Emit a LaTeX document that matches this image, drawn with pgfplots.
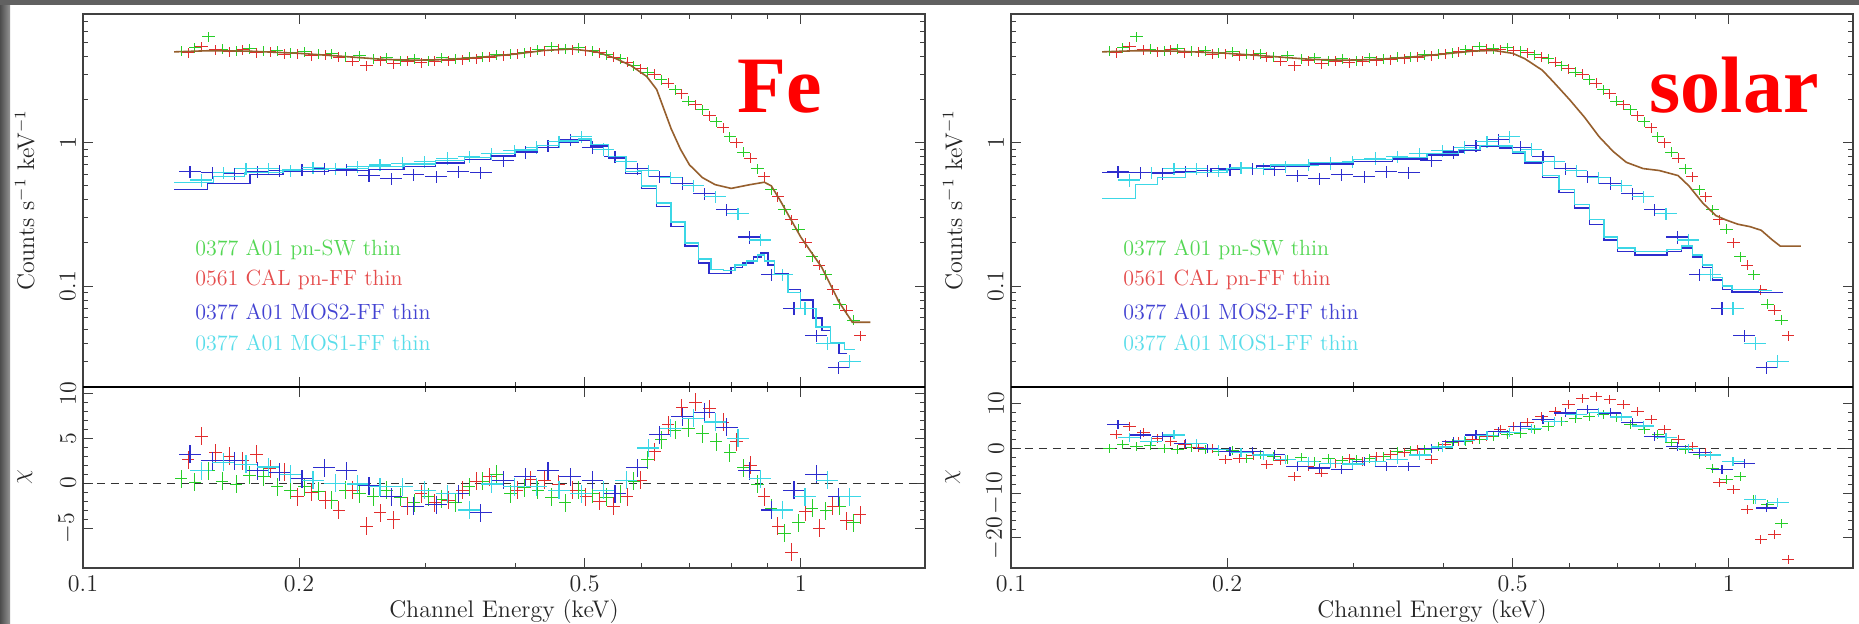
\documentclass[border=0pt]{standalone}
\usepackage{pgfplots}
\pgfplotsset{compat=1.18}
\usepackage{pgfplotstable}
\usepackage{fontspec}
\newfontfamily\bigserif{Liberation Serif}
\definecolor{cgreen}{RGB}{40,205,40}
\definecolor{cred}{RGB}{225,45,45}
\definecolor{cblue}{RGB}{45,45,205}
\definecolor{ccyan}{RGB}{60,215,230}
\definecolor{cmodel}{RGB}{150,95,45}

\pgfplotstableread{
E g Er r gFe rFe gSo rSo
0.1370 4.35 0.1401 4.25 0.5 2.6 0.0 3.0
0.1432 4.60 0.1464 4.70 0.1 5.2 0.8 4.9
0.1496 5.50 0.1529 4.45 1.4 3.4 0.4 3.5
0.1563 4.50 0.1598 4.30 0.2 3.0 0.6 2.3
0.1634 4.40 0.1670 4.45 -0.1 2.5 0.0 1.5
0.1707 4.55 0.1745 4.25 0.9 3.2 -0.2 0.8
0.1784 4.35 0.1824 4.30 0.7 1.6 0.1 0.3
0.1864 4.40 0.1906 4.15 -0.4 1.2 -0.3 0.0
0.1948 4.25 0.1991 4.20 -0.8 -1.5 -0.7 -2.5
0.2036 4.30 0.2081 4.05 -0.4 -1.0 -0.5 -2.2
0.2128 4.15 0.2175 4.10 -0.9 -1.9 -2.2 -1.5
0.2223 4.20 0.2273 3.95 -1.9 -3.0 -1.4 -3.6
0.2323 4.00 0.2375 3.70 -0.8 -0.8 -1.8 -2.8
0.2428 4.05 0.2482 3.45 -1.2 -4.8 -2.5 -6.3
0.2537 3.85 0.2594 3.75 -1.5 -3.3 -2.0 -4.0
0.2651 3.90 0.2710 3.55 -0.8 -4.1 -2.9 -5.5
0.2771 3.75 0.2833 3.70 -1.6 -2.6 -2.2 -3.3
0.2895 3.85 0.2960 3.60 -2.2 -1.2 -2.6 -2.2
0.3026 3.75 0.3093 3.70 -1.5 -2.2 -2.5 -3.0
0.3162 3.90 0.3233 3.75 -1.8 -1.9 -2.2 -1.8
0.3304 3.85 0.3378 3.80 -2.2 -0.8 -1.9 -1.4
0.3453 3.95 0.3530 3.85 -0.4 0.2 -0.7 -1.0
0.3608 4.00 0.3688 3.95 0.2 0.7 -0.5 -0.3
0.3770 4.10 0.3854 4.05 1.0 0.3 -0.3 -2.5
0.3940 4.15 0.4028 4.20 -1.2 -0.8 0.4 0.8
0.4117 4.25 0.4209 4.30 -0.5 0.4 1.2 1.6
0.4303 4.45 0.4399 4.40 -0.8 0.3 1.6 2.0
0.4496 4.70 0.4596 4.50 -1.6 -0.1 1.9 2.7
0.4699 4.55 0.4804 4.45 -2.2 -0.8 2.7 4.2
0.4910 4.60 0.5019 4.40 -0.8 -1.5 3.0 4.8
0.5131 4.40 0.5245 4.25 -1.2 -2.0 3.4 5.7
0.5362 4.10 0.5482 3.95 -1.6 -2.6 4.2 7.1
0.5603 3.85 0.5728 3.65 -1.2 -1.5 4.9 8.3
0.5855 3.45 0.5986 3.30 0.2 0.3 6.0 9.7
0.6119 3.10 0.6255 3.00 2.6 3.5 6.6 11.2
0.6394 2.75 0.6537 2.60 4.8 6.5 7.1 11.6
0.6682 2.35 0.6831 2.20 5.9 8.4 7.5 10.9
0.6983 1.95 0.7139 1.85 6.1 9.0 6.8 9.7
0.7297 1.70 0.7460 1.55 5.5 8.3 5.3 8.3
0.7625 1.40 0.7795 1.28 4.6 6.8 4.2 6.4
0.7968 1.10 0.8146 1.00 3.4 4.6 3.0 4.2
0.8327 0.86 0.8513 0.78 1.7 2.0 1.2 1.9
0.8702 0.66 0.8896 0.58 -0.1 -1.5 -0.3 0.4
0.9093 0.47 0.9296 0.42 -2.8 -4.8 -1.4 -1.0
0.9502 0.34 0.9714 0.29 -5.6 -7.7 -4.4 -7.7
0.9930 0.25 1.0151 0.20 -4.4 -3.2 -7.0 -9.2
1.0377 0.16 1.0608 0.14 -2.8 -5.0 -6.3 -13.7
1.0844 0.12 1.1086 0.095 -3.1 -2.6 -11.5 -20.4
1.1332 0.075 1.1585 0.068 -2.6 -4.2 -12.6 -19.3
1.1842 0.058 1.2106 0.045 -4.4 -3.5 -16.7 -24.9
}\pntab

\pgfplotstableread{
E b Ec c bFe cFe bSo cSo
0.1410 0.63 0.1461 0.55 3.2 1.4 5.3 2.5
0.1515 0.62 0.1570 0.62 2.5 2.3 3.0 1.5
0.1628 0.61 0.1687 0.66 2.5 2.1 2.7 3.0
0.1749 0.63 0.1812 0.66 1.4 1.8 1.0 1.0
0.1879 0.64 0.1947 0.64 1.2 1.0 0.0 -0.3
0.2019 0.65 0.2092 0.67 0.5 0.3 -0.7 -1.0
0.2169 0.66 0.2248 0.66 1.7 0.0 -0.7 -1.5
0.2330 0.65 0.2414 0.68 1.4 -0.1 -1.4 -2.5
0.2504 0.59 0.2594 0.70 -0.3 -0.4 -4.0 -3.0
0.2690 0.56 0.2787 0.72 -1.5 -0.4 -4.4 -3.3
0.2890 0.60 0.2994 0.74 -2.6 -0.8 -4.8 -3.5
0.3105 0.58 0.3217 0.78 -2.4 -1.2 -2.9 -3.0
0.3336 0.63 0.3456 0.80 -1.2 -3.0 -4.0 -2.5
0.3584 0.62 0.3713 0.84 -3.3 -0.1 -4.0 -1.5
0.3851 0.75 0.3990 0.88 0.3 -0.4 0.0 0.3
0.4137 0.86 0.4286 0.93 0.7 -0.4 1.6 1.8
0.4445 0.95 0.4605 1.02 1.4 -0.8 3.0 2.8
0.4776 1.05 0.4948 1.10 0.7 -1.2 3.8 3.5
0.5131 0.93 0.5316 0.90 0.3 -0.8 4.9 4.5
0.5513 0.80 0.5712 0.74 -1.2 0.3 6.4 6.0
0.5923 0.66 0.6136 0.64 1.7 3.9 7.9 7.5
0.6364 0.58 0.6593 0.57 5.4 6.1 8.6 8.0
0.6837 0.52 0.7083 0.50 7.4 7.2 7.9 7.0
0.7346 0.44 0.7610 0.42 7.9 6.8 5.7 5.0
0.7892 0.34 0.8176 0.32 6.2 5.0 2.7 2.5
0.8479 0.22 0.8785 0.21 1.4 0.5 0.4 0.0
0.9110 0.12 0.9438 0.12 -3.0 -3.0 -1.0 -1.5
0.9788 0.07 1.0140 0.07 -0.8 -1.5 -4.8 -3.0
1.0516 0.045 1.0894 0.040 1.0 0.3 -3.3 -11.5
1.1298 0.027 1.1705 0.030 -1.5 -1.5 -13.3 -12.0
}\mostab

\pgfplotstableread{
E C
0.134 4.30
0.150 4.38
0.170 4.35
0.200 4.20
0.230 4.00
0.260 3.82
0.290 3.76
0.320 3.80
0.360 3.95
0.400 4.15
0.440 4.40
0.480 4.50
0.520 4.30
0.550 3.90
0.580 3.45
0.610 2.90
0.630 2.35
0.660 1.25
0.680 0.90
0.700 0.70
0.730 0.57
0.760 0.51
0.800 0.48
0.850 0.51
0.890 0.53
0.910 0.50
0.935 0.40
1.000 0.22
1.070 0.135
1.130 0.078
1.180 0.056
1.250 0.056
}\pnmodFe

\pgfplotstableread{
E C
0.134 4.30
0.150 4.38
0.170 4.35
0.200 4.20
0.230 4.00
0.260 3.82
0.290 3.76
0.320 3.80
0.360 3.95
0.400 4.15
0.440 4.35
0.470 4.40
0.500 4.20
0.520 3.85
0.550 3.20
0.570 2.65
0.600 2.00
0.630 1.50
0.660 1.10
0.690 0.87
0.720 0.73
0.760 0.66
0.800 0.64
0.850 0.59
0.880 0.50
0.920 0.38
0.960 0.31
0.990 0.29
1.030 0.27
1.070 0.26
1.110 0.245
1.150 0.21
1.180 0.19
1.260 0.19
}\pnmodSo

\pgfplotstableread{
E C
0.134 0.47
0.149 0.52
0.171 0.60
0.190 0.63
0.220 0.64
0.250 0.65
0.280 0.68
0.310 0.72
0.340 0.76
0.370 0.81
0.400 0.86
0.430 0.93
0.460 1.00
0.490 1.04
0.510 0.95
0.540 0.78
0.570 0.61
0.600 0.48
0.630 0.36
0.660 0.26
0.690 0.19
0.720 0.145
0.745 0.123
0.770 0.123
0.800 0.135
0.830 0.145
0.860 0.160
0.880 0.170
0.900 0.140
0.920 0.123
0.960 0.095
1.000 0.080
1.040 0.060
1.070 0.049
1.100 0.040
1.130 0.034
1.160 0.034
}\bmodFe

\pgfplotstableread{
E C
0.134 0.53
0.152 0.58
0.168 0.62
0.190 0.65
0.220 0.66
0.250 0.68
0.280 0.71
0.310 0.75
0.340 0.79
0.370 0.84
0.400 0.89
0.430 0.96
0.460 1.03
0.490 1.06
0.510 0.97
0.540 0.80
0.570 0.63
0.600 0.50
0.630 0.38
0.660 0.28
0.690 0.20
0.720 0.155
0.750 0.130
0.780 0.128
0.810 0.140
0.840 0.150
0.870 0.165
0.890 0.150
0.920 0.120
0.960 0.090
1.000 0.070
1.050 0.052
1.100 0.040
1.150 0.036
1.190 0.036
}\cmodFe

\pgfplotstableread{
E C
0.134 0.62
0.170 0.62
0.190 0.66
0.220 0.69
0.260 0.71
0.300 0.74
0.340 0.77
0.380 0.82
0.420 0.88
0.450 0.94
0.480 0.92
0.500 0.84
0.520 0.72
0.550 0.57
0.580 0.45
0.610 0.35
0.640 0.27
0.670 0.21
0.700 0.175
0.740 0.165
0.780 0.165
0.820 0.175
0.860 0.185
0.890 0.160
0.920 0.135
0.950 0.110
0.980 0.095
1.010 0.091
1.100 0.090
1.190 0.090
}\bmodSo

\pgfplotstableread{
E C
0.134 0.41
0.149 0.51
0.160 0.57
0.175 0.62
0.200 0.66
0.230 0.70
0.260 0.73
0.300 0.76
0.340 0.79
0.380 0.84
0.420 0.90
0.450 0.96
0.480 0.95
0.500 0.86
0.520 0.74
0.550 0.59
0.580 0.47
0.610 0.37
0.640 0.29
0.670 0.22
0.700 0.185
0.740 0.175
0.780 0.175
0.820 0.180
0.860 0.190
0.890 0.165
0.920 0.140
0.950 0.115
0.980 0.100
1.010 0.095
1.100 0.093
1.150 0.093
}\cmodSo

\tikzset{legtxt/.style={anchor=west, font=\fontsize{11}{13}\selectfont}}

\begin{document}
\begin{tikzpicture}
\fill[white] (0,0) rectangle (929.5pt,312pt);
\shade[left color=black!70, right color=black!42] (0,0) rectangle (5pt,312pt);
\fill[black!62] (0,309.5pt) rectangle (929.5pt,312pt);

% ---------- Left upper (Fe)
\begin{axis}[at={(41.5pt,118.5pt)}, anchor=south west,
    xmode=log, ymode=log, xmin=0.1, xmax=1.49, ymin=0.0198, ymax=7.9,
    scale only axis, width=421pt, height=186.5pt,
    axis line style={black!75, line width=0.7pt},
    tick style={black!75, line width=0.5pt}, tick align=inside,
    major tick length=5pt, minor tick length=2.5pt,
    xtick={0.1,0.2,0.5,1}, minor xtick={0.3,0.4,0.6,0.7,0.8,0.9}, xticklabels={},
    ytick={0.1,1}, yticklabels={0.1,1},
    minor ytick={0.02,0.03,0.04,0.05,0.06,0.07,0.08,0.09,0.2,0.3,0.4,0.5,0.6,0.7,0.8,0.9,2,3,4,5,6,7},
    ticklabel style={font=\fontsize{12}{14}\selectfont, black!85},
    yticklabel style={rotate=90, anchor=south},
    ylabel={Counts s$^{-1}$ keV$^{-1}$},
    ylabel style={at={(axis description cs:-0.069,0.5)}, rotate=0, anchor=center, font=\fontsize{12}{14}\selectfont, black!85},
    clip=false]
\addplot[cgreen, only marks, mark=*, mark size=0.01pt, error bars/.cd, x dir=both, x fixed relative=0.02, y dir=both, y fixed relative=0.08, error mark=none, error bar style={line width=0.5pt}] table[x=E, y=g] {\pntab};
\addplot[cred, only marks, mark=*, mark size=0.01pt, error bars/.cd, x dir=both, x fixed relative=0.02, y dir=both, y fixed relative=0.08, error mark=none, error bar style={line width=0.5pt}] table[x=Er, y=r] {\pntab};
\addplot[cblue, only marks, mark=*, mark size=0.01pt, error bars/.cd, x dir=both, x fixed relative=0.035, y dir=both, y fixed relative=0.1, error mark=none, error bar style={line width=0.6pt}] table[x=E, y=b] {\mostab};
\addplot[ccyan, only marks, mark=*, mark size=0.01pt, error bars/.cd, x dir=both, x fixed relative=0.035, y dir=both, y fixed relative=0.1, error mark=none, error bar style={line width=0.6pt}] table[x=Ec, y=c] {\mostab};
\addplot[cmodel, line width=0.8pt, mark=none] table[x=E, y=C] {\pnmodFe};
\addplot[cblue, const plot, line width=0.7pt, mark=none] table[x=E, y=C] {\bmodFe};
\addplot[ccyan, const plot, line width=0.7pt, mark=none] table[x=E, y=C] {\cmodFe};
\node[legtxt, text=cgreen!80] at (rel axis cs:0.125,0.367) {0377 A01 pn-SW thin};
\node[legtxt, text=cred!85] at (rel axis cs:0.125,0.287) {0561 CAL pn-FF thin};
\node[legtxt, text=cblue!90] at (rel axis cs:0.125,0.201) {0377 A01 MOS2-FF thin};
\node[legtxt, text=ccyan!85] at (rel axis cs:0.125,0.118) {0377 A01 MOS1-FF thin};
\node[anchor=base, text=red, font=\bigserif\bfseries\fontsize{40}{44}\selectfont] at (rel axis cs:0.828,0.735) {Fe};
\end{axis}

% ---------- Left lower (Fe)
\begin{axis}[at={(41.5pt,28pt)}, anchor=south west,
    xmode=log, xmin=0.1, xmax=1.49, ymin=-9.45, ymax=10.7,
    scale only axis, width=421pt, height=90.5pt,
    axis line style={black!75, line width=0.7pt},
    tick style={black!75, line width=0.5pt}, tick align=inside,
    major tick length=5pt, minor tick length=2.5pt,
    xtick={0.1,0.2,0.5,1}, minor xtick={0.3,0.4,0.6,0.7,0.8,0.9}, xticklabels={0.1,0.2,0.5,1},
    ytick={-5,0,5,10}, minor y tick num=4,
    ticklabel style={font=\fontsize{12}{14}\selectfont, black!85},
    yticklabel style={rotate=90, anchor=south},
    ylabel={$\chi$},
    ylabel style={at={(axis description cs:-0.069,0.5)}, rotate=0, anchor=center, font=\fontsize{12}{14}\selectfont, black!85},
    xlabel={Channel Energy (keV)},
    xlabel style={at={(axis description cs:0.5,0)}, anchor=center, yshift=-22pt, inner sep=0pt, font=\fontsize{12}{14}\selectfont, black!85},
    clip=false]
\addplot[black!80, line width=0.6pt, dash pattern=on 4pt off 3pt, mark=none] coordinates {(0.1,0) (1.49,0)};
\addplot[cgreen, only marks, mark=*, mark size=0.01pt, error bars/.cd, x dir=both, x fixed relative=0.02, y dir=both, y fixed=1, error mark=none, error bar style={line width=0.5pt}] table[x=E, y=gFe] {\pntab};
\addplot[cred, only marks, mark=*, mark size=0.01pt, error bars/.cd, x dir=both, x fixed relative=0.02, y dir=both, y fixed=1, error mark=none, error bar style={line width=0.5pt}] table[x=Er, y=rFe] {\pntab};
\addplot[cblue, only marks, mark=*, mark size=0.01pt, error bars/.cd, x dir=both, x fixed relative=0.035, y dir=both, y fixed=1, error mark=none, error bar style={line width=0.6pt}] table[x=E, y=bFe] {\mostab};
\addplot[ccyan, only marks, mark=*, mark size=0.01pt, error bars/.cd, x dir=both, x fixed relative=0.035, y dir=both, y fixed=1, error mark=none, error bar style={line width=0.6pt}] table[x=Ec, y=cFe] {\mostab};
\draw[black, line width=1.3pt] (rel axis cs:0,1) -- (rel axis cs:1,1);
\end{axis}

% ---------- Right upper (solar)
\begin{axis}[at={(505.5pt,118.5pt)}, anchor=south west,
    xmode=log, ymode=log, xmin=0.1, xmax=1.49, ymin=0.0198, ymax=7.9,
    scale only axis, width=421pt, height=186.5pt,
    axis line style={black!75, line width=0.7pt},
    tick style={black!75, line width=0.5pt}, tick align=inside,
    major tick length=5pt, minor tick length=2.5pt,
    xtick={0.1,0.2,0.5,1}, minor xtick={0.3,0.4,0.6,0.7,0.8,0.9}, xticklabels={},
    ytick={0.1,1}, yticklabels={0.1,1},
    minor ytick={0.02,0.03,0.04,0.05,0.06,0.07,0.08,0.09,0.2,0.3,0.4,0.5,0.6,0.7,0.8,0.9,2,3,4,5,6,7},
    ticklabel style={font=\fontsize{12}{14}\selectfont, black!85},
    yticklabel style={rotate=90, anchor=south},
    ylabel={Counts s$^{-1}$ keV$^{-1}$},
    ylabel style={at={(axis description cs:-0.069,0.5)}, rotate=0, anchor=center, font=\fontsize{12}{14}\selectfont, black!85},
    clip=false]
\addplot[cgreen, only marks, mark=*, mark size=0.01pt, error bars/.cd, x dir=both, x fixed relative=0.02, y dir=both, y fixed relative=0.08, error mark=none, error bar style={line width=0.5pt}] table[x=E, y=g] {\pntab};
\addplot[cred, only marks, mark=*, mark size=0.01pt, error bars/.cd, x dir=both, x fixed relative=0.02, y dir=both, y fixed relative=0.08, error mark=none, error bar style={line width=0.5pt}] table[x=Er, y=r] {\pntab};
\addplot[cblue, only marks, mark=*, mark size=0.01pt, error bars/.cd, x dir=both, x fixed relative=0.035, y dir=both, y fixed relative=0.1, error mark=none, error bar style={line width=0.6pt}] table[x=E, y=b] {\mostab};
\addplot[ccyan, only marks, mark=*, mark size=0.01pt, error bars/.cd, x dir=both, x fixed relative=0.035, y dir=both, y fixed relative=0.1, error mark=none, error bar style={line width=0.6pt}] table[x=Ec, y=c] {\mostab};
\addplot[cmodel, line width=0.8pt, mark=none] table[x=E, y=C] {\pnmodSo};
\addplot[cblue, const plot, line width=0.7pt, mark=none] table[x=E, y=C] {\bmodSo};
\addplot[ccyan, const plot, line width=0.7pt, mark=none] table[x=E, y=C] {\cmodSo};
\node[legtxt, text=cgreen!80] at (rel axis cs:0.125,0.367) {0377 A01 pn-SW thin};
\node[legtxt, text=cred!85] at (rel axis cs:0.125,0.287) {0561 CAL pn-FF thin};
\node[legtxt, text=cblue!90] at (rel axis cs:0.125,0.201) {0377 A01 MOS2-FF thin};
\node[legtxt, text=ccyan!85] at (rel axis cs:0.125,0.118) {0377 A01 MOS1-FF thin};
\node[anchor=base, text=red, font=\bigserif\bfseries\fontsize{40}{44}\selectfont] at (rel axis cs:0.859,0.735) {solar};
\end{axis}

% ---------- Right lower (solar)
\begin{axis}[at={(505.5pt,28pt)}, anchor=south west,
    xmode=log, xmin=0.1, xmax=1.49, ymin=-26.7, ymax=13.7,
    scale only axis, width=421pt, height=90.5pt,
    axis line style={black!75, line width=0.7pt},
    tick style={black!75, line width=0.5pt}, tick align=inside,
    major tick length=5pt, minor tick length=2.5pt,
    xtick={0.1,0.2,0.5,1}, minor xtick={0.3,0.4,0.6,0.7,0.8,0.9}, xticklabels={0.1,0.2,0.5,1},
    ytick={-20,-10,0,10}, minor y tick num=4,
    ticklabel style={font=\fontsize{12}{14}\selectfont, black!85},
    yticklabel style={rotate=90, anchor=south},
    ylabel={$\chi$},
    ylabel style={at={(axis description cs:-0.069,0.5)}, rotate=0, anchor=center, font=\fontsize{12}{14}\selectfont, black!85},
    xlabel={Channel Energy (keV)},
    xlabel style={at={(axis description cs:0.5,0)}, anchor=center, yshift=-22pt, inner sep=0pt, font=\fontsize{12}{14}\selectfont, black!85},
    clip=false]
\addplot[black!80, line width=0.6pt, dash pattern=on 4pt off 3pt, mark=none] coordinates {(0.1,0) (1.49,0)};
\addplot[cgreen, only marks, mark=*, mark size=0.01pt, error bars/.cd, x dir=both, x fixed relative=0.02, y dir=both, y fixed=1, error mark=none, error bar style={line width=0.5pt}] table[x=E, y=gSo] {\pntab};
\addplot[cred, only marks, mark=*, mark size=0.01pt, error bars/.cd, x dir=both, x fixed relative=0.02, y dir=both, y fixed=1, error mark=none, error bar style={line width=0.5pt}] table[x=Er, y=rSo] {\pntab};
\addplot[cblue, only marks, mark=*, mark size=0.01pt, error bars/.cd, x dir=both, x fixed relative=0.035, y dir=both, y fixed=1, error mark=none, error bar style={line width=0.6pt}] table[x=E, y=bSo] {\mostab};
\addplot[ccyan, only marks, mark=*, mark size=0.01pt, error bars/.cd, x dir=both, x fixed relative=0.035, y dir=both, y fixed=1, error mark=none, error bar style={line width=0.6pt}] table[x=Ec, y=cSo] {\mostab};
\draw[black, line width=1.3pt] (rel axis cs:0,1) -- (rel axis cs:1,1);
\end{axis}
\pgfresetboundingbox
\path[use as bounding box] (0,0) rectangle (929.5pt,312pt);
\end{tikzpicture}
\end{document}
